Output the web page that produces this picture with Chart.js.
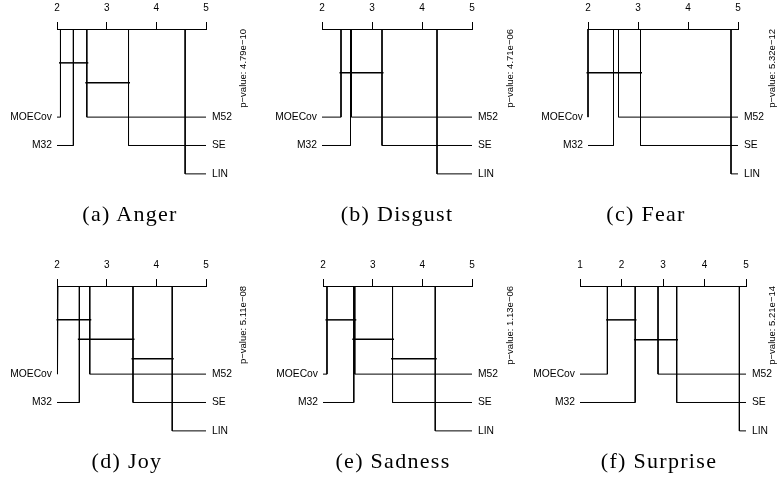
<!DOCTYPE html>
<html>
<head>
<meta charset="utf-8">
<script src="https://cdn.jsdelivr.net/npm/chart.js@4/dist/chart.umd.min.js"></script>
<style>
  html, body { margin: 0; padding: 0; background: #fff; overflow: hidden; width: 778px; height: 489px; }
  #fig { position: relative; width: 778px; height: 489px; overflow: hidden; }
  #fig canvas { position: absolute; }
  .caption {
    position: absolute; white-space: nowrap; line-height: 1;
    font-family: "Liberation Serif", serif; font-size: 22px; letter-spacing: 1.3px;
    transform: translateX(-50%); color: #000;
  }
</style>
</head>
<body>
<div id="fig"></div>
<script>
// Methods compared (same order in every panel: best average rank first)
const methods = ['MOECov', 'M32', 'M52', 'SE', 'LIN'];
const emotions = ['Anger', 'Disgust', 'Fear', 'Joy', 'Sadness', 'Surprise'];
const panelTags = ['(a)', '(b)', '(c)', '(d)', '(e)', '(f)'];

// Average ranks per emotion, one value per method
const rankAnger    = [2.07, 2.33, 2.60, 3.44, 4.58];
const rankDisgust  = [2.38, 2.57, 2.59, 3.20, 4.30];
const rankFear     = [2.00, 2.51, 2.61, 3.05, 4.86];
const rankJoy      = [2.02, 2.45, 2.66, 3.53, 4.32];
const rankSadness  = [2.08, 2.62, 2.64, 3.40, 4.26];
const rankSurprise = [1.66, 2.33, 2.88, 3.33, 4.84];

// Friedman test p-values
const pValues = ['4.79e\u221210', '4.71e\u221206', '5.32e\u221212', '5.11e\u221208', '1.13e\u221206', '5.21e\u221214'];

// Groups of methods that are not significantly different (first and last method index)
const cliquesAnger    = [[0, 2], [2, 3]];
const cliquesDisgust  = [[0, 3]];
const cliquesFear     = [[0, 3]];
const cliquesJoy      = [[0, 2], [1, 3], [3, 4]];
const cliquesSadness  = [[0, 2], [1, 3], [3, 4]];
const cliquesSurprise = [[0, 1], [1, 3]];

const ranks = [rankAnger, rankDisgust, rankFear, rankJoy, rankSadness, rankSurprise];
const cliques = [cliquesAnger, cliquesDisgust, cliquesFear, cliquesJoy, cliquesSadness, cliquesSurprise];

// ---- layout (page pixels) ----
const axisBoxes = [
  { l: 57,  r: 206, axisY: 29 },
  { l: 322, r: 472, axisY: 29 },
  { l: 588, r: 738, axisY: 29 },
  { l: 57,  r: 206, axisY: 286 },
  { l: 323, r: 472, axisY: 286 },
  { l: 580, r: 746, axisY: 286 }
];
const pValueX = [243, 510, 772, 243, 510, 772];
const captionX = [130, 397, 646, 127, 393, 659];
const captionY = [203, 203, 203, 450, 450, 450];

const PAD_LEFT = 57, PAD_RIGHT_EXTRA = 48, CANVAS_H = 210;
const ROW_OFFSETS = [88.5, 117, 145.5]; // label rows below the axis (px)
const BAR_OFFSETS = { 1: [44], 2: [34, 54], 3: [34, 53.5, 73] };
const BAR_OVERHANG = 0.03;
const LABEL_FONT = '10.3px "Liberation Sans", Arial, sans-serif';

const fig = document.getElementById('fig');

function buildPanel(k) {
  const r = ranks[k];
  const box = axisBoxes[k];
  const lo = Math.floor(Math.min(...r));
  const hi = Math.ceil(Math.max(...r));
  const nLeft = Math.floor(methods.length / 2);

  const canvasLeft = box.l - PAD_LEFT;
  const width = PAD_LEFT + (box.r - box.l) + PAD_RIGHT_EXTRA;
  const canvas = document.createElement('canvas');
  canvas.width = width; canvas.height = CANVAS_H;
  canvas.style.left = canvasLeft + 'px';
  canvas.style.top = '0px';
  canvas.style.width = width + 'px';
  canvas.style.height = CANVAS_H + 'px';
  fig.appendChild(canvas);

  const line = (pts, w) => ({
    data: pts, showLine: true, borderColor: '#000', borderWidth: w,
    pointRadius: 0, tension: 0, fill: false, clip: false
  });

  const datasets = [];
  methods.forEach((m, i) => {
    const left = i < nLeft;
    const row = left ? ROW_OFFSETS[i] : ROW_OFFSETS[i - nLeft];
    const edge = left ? lo : hi;
    datasets.push(line([{ x: r[i], y: 0 }, { x: r[i], y: row }, { x: edge, y: row }], 1));
  });
  const bars = BAR_OFFSETS[cliques[k].length];
  cliques[k].forEach(([a, b], j) => {
    datasets.push(line([{ x: r[a] - BAR_OVERHANG, y: bars[j] }, { x: r[b] + BAR_OVERHANG, y: bars[j] }], 1.5));
  });

  const textPlugin = {
    id: 'cdText',
    afterDatasetsDraw(chart) {
      const ctx = chart.ctx, xs = chart.scales.x, ys = chart.scales.y;
      ctx.save();
      ctx.fillStyle = '#000';
      ctx.font = LABEL_FONT;
      ctx.textBaseline = 'middle';
      methods.forEach((m, i) => {
        const left = i < nLeft;
        const row = left ? ROW_OFFSETS[i] : ROW_OFFSETS[i - nLeft];
        const y = ys.getPixelForValue(row);
        if (left) {
          ctx.textAlign = 'right';
          ctx.fillText(m, xs.getPixelForValue(lo) - 5, y);
        } else {
          ctx.textAlign = 'left';
          ctx.fillText(m, xs.getPixelForValue(hi) + 6, y);
        }
      });
      // rotated p-value, reading bottom to top, ending level with the axis
      ctx.translate(pValueX[k] - canvasLeft, chart.chartArea.top);
      ctx.rotate(-Math.PI / 2);
      ctx.font = '9.5px "Liberation Sans", Arial, sans-serif';
      ctx.textAlign = 'right';
      ctx.textBaseline = 'middle';
      ctx.fillText('p\u2212value: ' + pValues[k], 0, 0);
      ctx.restore();
    }
  };

  const chart = new Chart(canvas, {
    type: 'scatter',
    data: { datasets },
    options: {
      responsive: false,
      animation: false,
      events: [],
      devicePixelRatio: 1,
      layout: { padding: { left: PAD_LEFT, right: PAD_RIGHT_EXTRA, top: 0, bottom: 0 } },
      plugins: { legend: { display: false }, tooltip: { enabled: false } },
      scales: {
        x: {
          type: 'linear', position: 'top', min: lo, max: hi,
          ticks: { stepSize: 1, padding: 8, color: '#000', maxRotation: 0,
                   font: { family: '"Liberation Sans", Arial, sans-serif', size: 10 } },
          grid: { drawOnChartArea: false, drawTicks: true, tickLength: 7, color: '#000', tickWidth: 1 },
          border: { display: true, color: '#000', width: 1 }
        },
        y: { type: 'linear', display: false, min: 0, max: 170, reverse: true }
      }
    },
    plugins: [textPlugin]
  });

  // y values are pixel offsets below the axis line: make the scale span the plot height
  const area = chart.chartArea;
  chart.options.scales.y.max = area.bottom - area.top;
  chart.update();

  // place the canvas so its axis line sits at the panel's axis height
  canvas.style.top = (box.axisY - Math.round(chart.chartArea.top)) + 'px';

  const cap = document.createElement('div');
  cap.className = 'caption';
  cap.textContent = panelTags[k] + ' ' + emotions[k];
  cap.style.left = captionX[k] + 'px';
  cap.style.top = captionY[k] + 'px';
  fig.appendChild(cap);
}

emotions.forEach((e, k) => buildPanel(k));
</script>
</body>
</html>
